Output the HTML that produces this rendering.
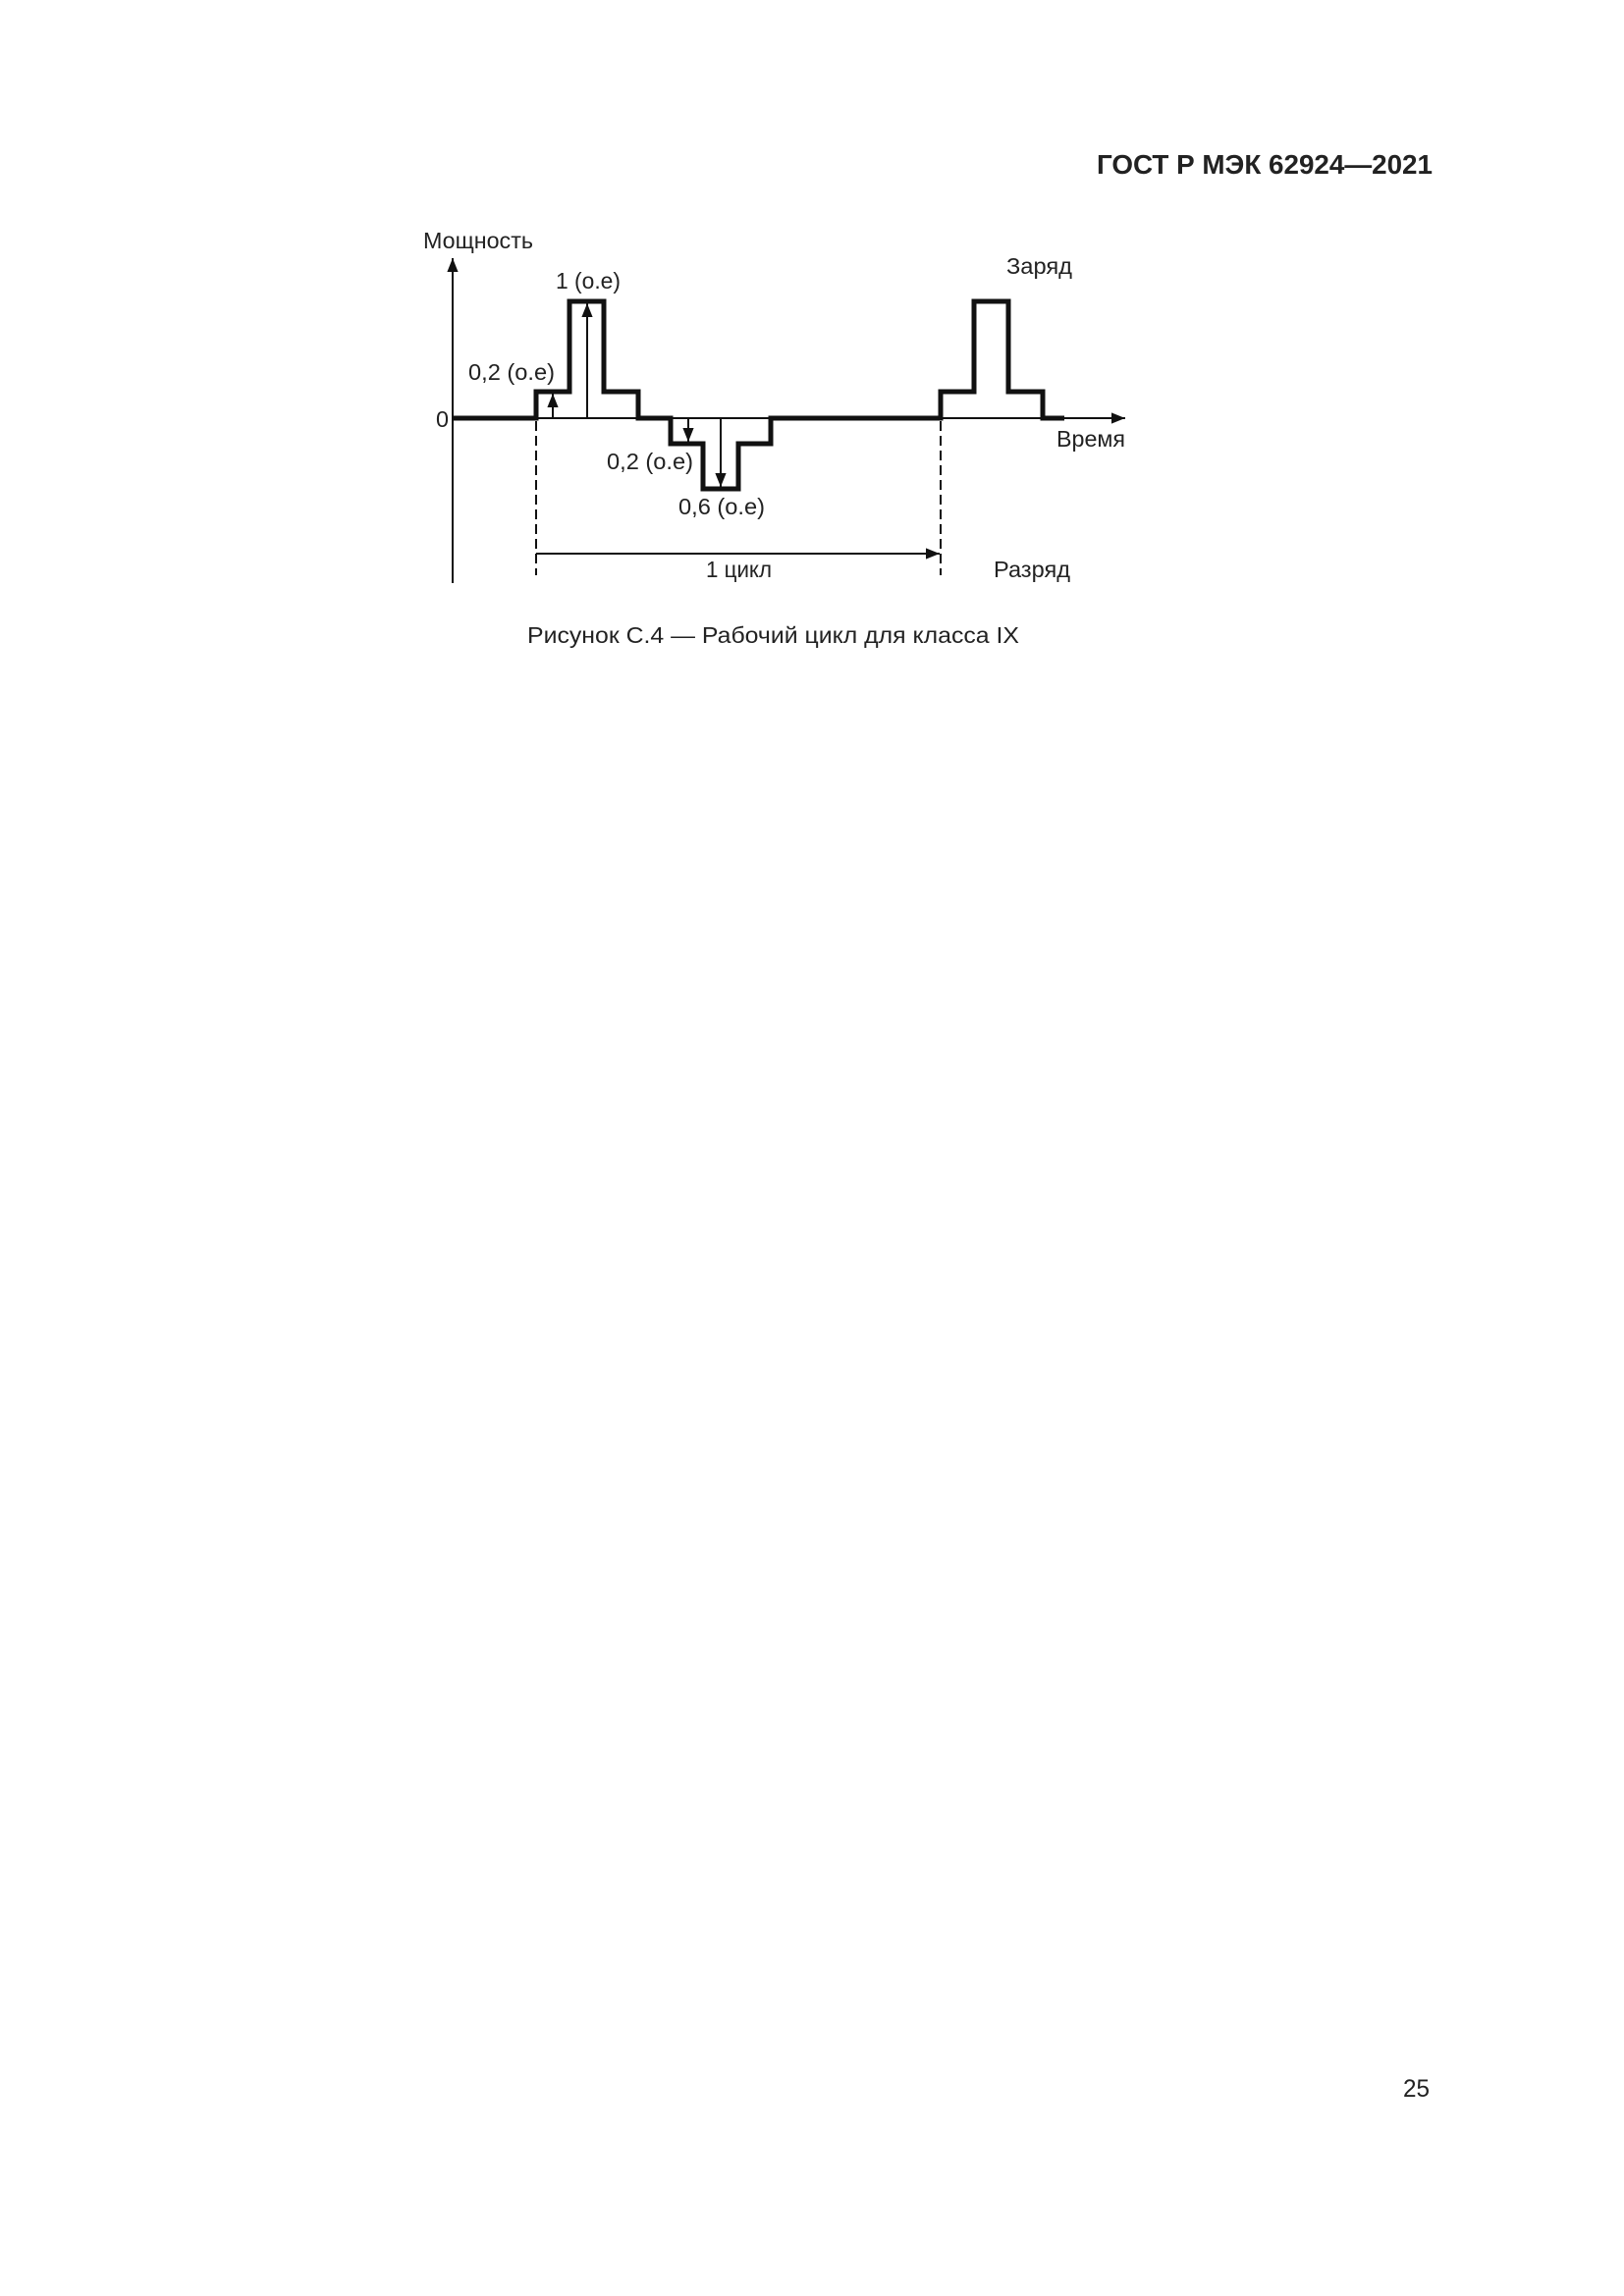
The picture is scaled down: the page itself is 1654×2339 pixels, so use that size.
<!DOCTYPE html>
<html><head><meta charset="utf-8"><style>
html,body{margin:0;padding:0;background:#fff}
svg{display:block}
text{font-family:"Liberation Sans",sans-serif;fill:#222}
</style></head><body>
<svg width="1654" height="2339" viewBox="0 0 1654 2339" xmlns="http://www.w3.org/2000/svg">
<defs>
<marker id="b" viewBox="0 0 10 10" refX="10" refY="5" markerWidth="22" markerHeight="14" markerUnits="userSpaceOnUse" orient="auto"><path d="M0,1 L10,5 L0,9 z" fill="#111"/></marker>
</defs>
<text x="1117" y="177" font-size="28" font-weight="bold" textLength="342" lengthAdjust="spacingAndGlyphs">ГОСТ Р МЭК 62924—2021</text>
<text x="1429" y="2136" font-size="25" textLength="27" lengthAdjust="spacingAndGlyphs">25</text>
<line x1="461" y1="594" x2="461" y2="263" stroke="#111" stroke-width="2" marker-end="url(#b)"/>
<line x1="461" y1="426" x2="1146" y2="426" stroke="#111" stroke-width="2" marker-end="url(#b)"/>
<polyline fill="none" stroke="#111" stroke-width="5" points="461,426 546,426 546,399 580,399 580,307 615,307 615,399 650,399 650,426 683,426 683,452 716,452 716,498 752,498 752,452 785,452 785,426 958,426 958,399 992,399 992,307 1027,307 1027,399 1062,399 1062,426 1084,426"/>
<line x1="546" y1="429" x2="546" y2="586" stroke="#111" stroke-width="2" stroke-dasharray="10,5"/>
<line x1="958" y1="429" x2="958" y2="586" stroke="#111" stroke-width="2" stroke-dasharray="10,5"/>
<line x1="546" y1="564" x2="957" y2="564" stroke="#111" stroke-width="2" marker-end="url(#b)"/>
<line x1="563" y1="426" x2="563" y2="401" stroke="#111" stroke-width="2" marker-end="url(#b)"/>
<line x1="598" y1="426" x2="598" y2="309" stroke="#111" stroke-width="2" marker-end="url(#b)"/>
<line x1="701" y1="426" x2="701" y2="450" stroke="#111" stroke-width="2" marker-end="url(#b)"/>
<line x1="734" y1="426" x2="734" y2="496" stroke="#111" stroke-width="2" marker-end="url(#b)"/>
<g font-size="23">
<text x="431" y="253" textLength="112" lengthAdjust="spacingAndGlyphs">Мощность</text>
<text x="1025" y="279" textLength="67" lengthAdjust="spacingAndGlyphs">Заряд</text>
<text x="566" y="294" textLength="66" lengthAdjust="spacingAndGlyphs">1 (о.е)</text>
<text x="477" y="387" textLength="88" lengthAdjust="spacingAndGlyphs">0,2 (о.е)</text>
<text x="444" y="435" textLength="13" lengthAdjust="spacingAndGlyphs">0</text>
<text x="1076" y="455" textLength="70" lengthAdjust="spacingAndGlyphs">Время</text>
<text x="618" y="478" textLength="88" lengthAdjust="spacingAndGlyphs">0,2 (о.е)</text>
<text x="691" y="524" textLength="88" lengthAdjust="spacingAndGlyphs">0,6 (о.е)</text>
<text x="719" y="588" textLength="67" lengthAdjust="spacingAndGlyphs">1 цикл</text>
<text x="1012" y="588" textLength="78" lengthAdjust="spacingAndGlyphs">Разряд</text>
<text x="537" y="655" textLength="501" lengthAdjust="spacingAndGlyphs">Рисунок С.4 — Рабочий цикл для класса IX</text>
</g>
</svg>
</body></html>
